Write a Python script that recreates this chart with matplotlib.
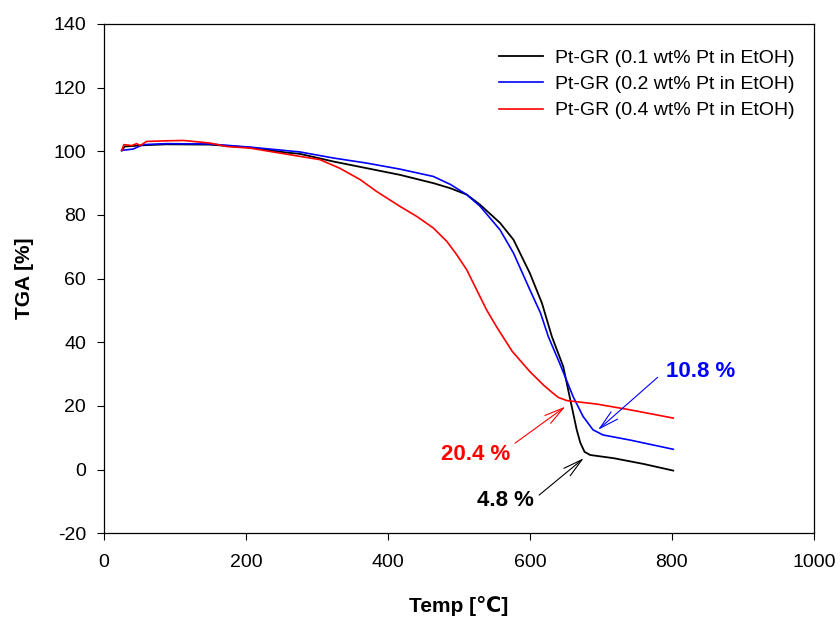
import matplotlib
matplotlib.use('Agg')
import matplotlib.pyplot as plt

plt.rcParams['font.family'] = ['Liberation Sans', 'DejaVu Sans']
plt.rcParams['axes.unicode_minus'] = False

# temperature [C] and TGA [%]
temp_01 = [25, 29, 55, 88, 149, 206, 257, 276, 323, 370, 417, 464, 488, 511, 530, 558,
           577, 600, 617, 631, 647, 657, 666, 671, 677, 685, 718, 760, 802]
tga_01 = [100.2, 101.5, 101.9, 102.2, 102.1, 101.2, 99.6, 99.2, 96.8, 94.7, 92.6, 90.0,
          88.4, 86.4, 83.2, 77.5, 72.2, 61.7, 52.3, 41.8, 32.4, 21.9, 12.5, 8.5, 5.6,
          4.6, 3.6, 1.8, -0.3]

temp_02 = [25, 41, 55, 88, 149, 206, 276, 323, 370, 417, 464, 488, 511, 530, 558, 577,
           600, 615, 626, 642, 661, 675, 689, 703, 741, 802]
tga_02 = [100.3, 100.7, 102.1, 102.4, 102.3, 101.3, 99.8, 97.9, 96.3, 94.4, 92.1, 89.6,
          86.4, 82.7, 75.3, 68.0, 56.5, 49.2, 41.8, 33.4, 22.9, 16.7, 12.5, 10.9, 9.3, 6.4]

temp_04 = [25, 28, 39, 46, 51, 60, 88, 112, 149, 173, 206, 257, 304, 332, 361, 384,
           417, 441, 464, 483, 497, 511, 525, 539, 553, 575, 600, 619, 630, 640, 652,
           694, 741, 802]
tga_04 = [100.3, 102.1, 101.8, 102.4, 101.8, 103.1, 103.3, 103.4, 102.6, 101.5, 101.0,
          99.1, 97.4, 94.7, 91.1, 87.4, 82.7, 79.5, 75.9, 71.7, 67.5, 62.8, 56.5, 50.2,
          44.9, 37.2, 30.8, 26.6, 24.5, 22.7, 21.7, 20.6, 18.8, 16.2]

labels = ['Pt-GR (0.1 wt% Pt in EtOH)', 'Pt-GR (0.2 wt% Pt in EtOH)',
          'Pt-GR (0.4 wt% Pt in EtOH)']

# residue annotations: text, text pos, arrow tail, arrow head, colour
notes = [
    ('10.8 %', (840, 30.7), (780, 29.0), (696, 12.5), '#0000ff'),
    ('20.4 %', (523, 4.9), (579, 8.3), (650, 19.8), '#ff0000'),
    ('4.8 %', (566, -9.8), (613, -8.0), (676, 3.6), 'black'),
]

fig = plt.figure(figsize=(8.4, 6.21), dpi=100)
ax = fig.add_axes([0.1238, 0.1412, 0.845, 0.8202])

ax.plot(temp_01, tga_01, color='black', lw=1.3, label=labels[0])
ax.plot(temp_02, tga_02, color='#0000ff', lw=1.2, label=labels[1])
ax.plot(temp_04, tga_04, color='#ff0000', lw=1.2, label=labels[2])

for txt, tpos, tail, head, col in notes:
    ax.annotate('', xy=head, xytext=tail,
                arrowprops=dict(arrowstyle='->,head_length=1.4,head_width=0.35',
                                color=col, lw=0.8, shrinkA=0, shrinkB=0))
    ax.text(tpos[0], tpos[1], txt, color=col, fontsize=16, fontweight='bold',
            ha='center', va='center')

ax.set_xlim(0, 1000)
ax.set_ylim(-20, 140)
ax.set_xticks(range(0, 1001, 200))
ax.set_yticks(range(-20, 141, 20))
ax.tick_params(direction='out', length=5, width=0.8, labelsize=14)
ax.tick_params(axis='x', pad=10)
ax.tick_params(axis='y', pad=8)
for s in ax.spines.values():
    s.set_linewidth(0.9)

ax.set_xlabel('Temp [℃]', fontsize=15, fontweight='bold', labelpad=18)
ax.set_ylabel('TGA [%]', fontsize=15, fontweight='bold', labelpad=14)

ax.legend(loc='upper right', frameon=False, fontsize=14, handlelength=2.25,
          handletextpad=0.6, labelspacing=0.45, bbox_to_anchor=(0.997, 0.985))

fig.savefig('out.png', dpi=100)
